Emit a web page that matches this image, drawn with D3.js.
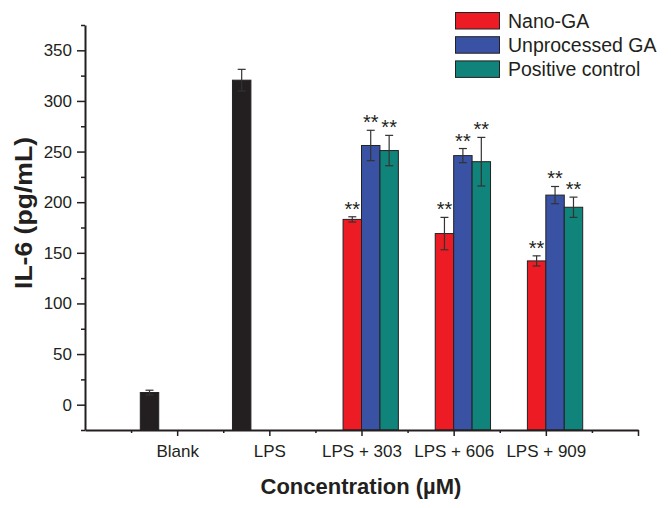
<!DOCTYPE html>
<html><head><meta charset="utf-8">
<script src="https://cdn.jsdelivr.net/npm/d3@7"></script>
<style>body{margin:0;background:#fff;} svg{display:block;}</style>
</head><body><svg id="c" width="671" height="508"></svg>
<script>
const categories = ["Blank", "LPS", "LPS + 303", "LPS + 606", "LPS + 909"];
const seriesNames = ["Control", "Nano-GA", "Unprocessed GA", "Positive control"];
const controlValues = [12, 320.5, null, null, null];
const controlErrors = [2.3, 10.7, null, null, null];
const nanoValues = [null, null, 183, 169, 142];
const nanoErrors = [null, null, 2.6, 16, 5];
const unprocessedValues = [null, null, 256, 246, 207];
const unprocessedErrors = [null, null, 15, 7, 8.5];
const positiveValues = [null, null, 251, 240, 195];
const positiveErrors = [null, null, 15, 24, 10];
const starLabels = [null, null, "**", "**", "**"];
const yMajorTicks = [0, 50, 100, 150, 200, 250, 300, 350];
const yMinorTicks = [-25, 25, 75, 125, 175, 225, 275, 325, 375];
const xMajorTicks = [1, 2, 3, 4, 5, 6];
const xMinorTicks = [0.5, 1.5, 2.5, 3.5, 4.5, 5.5];

const colors = ["#231f20", "#ed1c24", "#3a52a4", "#10837a"];
const legendSeries = [1, 2, 3];

const svg = d3.select("#c");
const x = d3.scaleLinear().domain([0, 6]).range([85, 638]);
const y = d3.scaleLinear().domain([-25, 375]).range([430, 25]);
const font = "'Liberation Sans', Arial, sans-serif";
const ink = "#231f20";

const series = [
  {vals: controlValues, errs: controlErrors, off: -0.4, stars: false},
  {vals: nanoValues, errs: nanoErrors, off: -0.2, stars: true},
  {vals: unprocessedValues, errs: unprocessedErrors, off: 0, stars: true},
  {vals: positiveValues, errs: positiveErrors, off: 0.2, stars: true}
];
const bw = 0.2;

// bars
series.forEach((s, si) => {
  const g = svg.append("g");
  categories.forEach((c, i) => {
    const v = s.vals[i];
    if (v == null) return;
    const x0 = x(i + 1 + s.off), x1 = x(i + 1 + s.off + bw);
    g.append("rect").attr("x", x0).attr("y", y(v)).attr("width", x1 - x0).attr("height", y(-25) - y(v))
      .attr("fill", colors[si]).attr("stroke", "#222").attr("stroke-width", 1);
  });
});
// error bars + stars
series.forEach((s, si) => {
  const g = svg.append("g");
  categories.forEach((c, i) => {
    const v = s.vals[i];
    if (v == null) return;
    const e = s.errs[i];
    const cx = x(i + 1 + s.off + bw / 2);
    const lc = "#333";
    g.append("line").attr("x1", cx).attr("x2", cx).attr("y1", y(v + e)).attr("y2", y(v - e)).attr("stroke", lc).attr("stroke-width", 1.2);
    [v + e, v - e].forEach(t => {
      g.append("line").attr("x1", cx - 4).attr("x2", cx + 4).attr("y1", y(t)).attr("y2", y(t)).attr("stroke", lc).attr("stroke-width", 1.2);
    });
    if (s.stars && starLabels[i]) {
      g.append("text").attr("x", cx).attr("y", y(v + e) - 1).attr("text-anchor", "middle")
        .attr("font-family", font).attr("font-size", 20).attr("fill", ink).text(starLabels[i]);
    }
  });
});

// y axis
const yAxisMajor = d3.axisLeft(y).tickValues(yMajorTicks).tickSize(8).tickSizeOuter(0).tickPadding(5);
const gy = svg.append("g").attr("transform", "translate(85,0)").call(yAxisMajor);
gy.select(".domain").attr("stroke", ink).attr("stroke-width", 2);
gy.selectAll(".tick line").attr("stroke", ink).attr("stroke-width", 1.5);
gy.selectAll(".tick text").attr("font-family", font).attr("font-size", 17).attr("fill", ink);
const gym = svg.append("g").attr("transform", "translate(85,0)").call(d3.axisLeft(y).tickValues(yMinorTicks).tickSize(4).tickFormat(""));
gym.select(".domain").remove();
gym.selectAll(".tick line").attr("stroke", ink).attr("stroke-width", 1.5);

// x axis
const xAxisMajor = d3.axisBottom(x).tickValues(xMajorTicks).tickSize(6).tickSizeOuter(0).tickPadding(9)
  .tickFormat(d => categories[d - 1] || "");
const gx = svg.append("g").attr("transform", "translate(0,430)").call(xAxisMajor);
gx.select(".domain").attr("stroke", ink).attr("stroke-width", 2);
gx.selectAll(".tick line").attr("stroke", ink).attr("stroke-width", 1.5);
gx.selectAll(".tick text").attr("font-family", font).attr("font-size", 17).attr("fill", ink);
const gxm = svg.append("g").attr("transform", "translate(0,430)").call(d3.axisBottom(x).tickValues(xMinorTicks).tickSize(3).tickFormat(""));
gxm.select(".domain").remove();
gxm.selectAll(".tick line").attr("stroke", ink).attr("stroke-width", 1.5);

// axis titles
svg.append("text").attr("x", 361).attr("y", 494).attr("text-anchor", "middle")
  .attr("font-family", font).attr("font-weight", "bold").attr("font-size", 22).attr("fill", ink).text("Concentration (\u00b5M)");
svg.append("text").attr("transform", "translate(32,213) rotate(-90)").attr("text-anchor", "middle")
  .attr("font-family", font).attr("font-weight", "bold").attr("font-size", 23)
  .attr("textLength", 152).attr("lengthAdjust", "spacingAndGlyphs").attr("fill", ink).text("IL-6 (pg/mL)");

// legend
const lg = svg.append("g");
legendSeries.forEach((si, k) => {
  const yy = 12.5 + k * 24.2;
  lg.append("rect").attr("x", 455.5).attr("y", yy).attr("width", 44).attr("height", 16.5)
    .attr("fill", colors[si]).attr("stroke", "#222").attr("stroke-width", 1);
  lg.append("text").attr("x", 508).attr("y", yy + 15).attr("font-family", font).attr("font-size", 19.5)
    .attr("fill", ink).text(seriesNames[si]);
});
</script></body></html>
